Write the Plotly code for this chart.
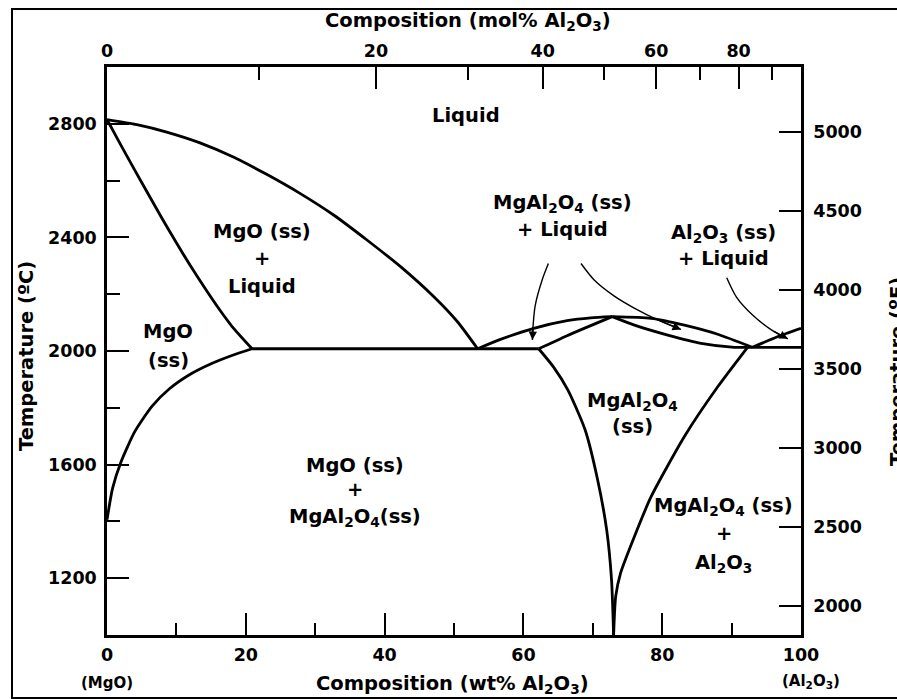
import plotly.graph_objects as go

# ---- phase boundaries: composition (wt% Al2O3) vs temperature (deg C) ----
mgo_liquidus_wt = [0, 4.3, 8.6, 13.4, 18.2, 23.0, 27.8, 32.7, 37.5, 42.3, 47.1, 50.5, 53.4]
mgo_liquidus_T = [2815, 2797, 2771, 2733, 2683, 2622, 2555, 2478, 2390, 2297, 2191, 2103, 2008]

mgo_solidus_wt = [0, 2, 4, 6, 8, 10, 12, 14, 16, 18, 20.9]
mgo_solidus_T = [2815, 2725, 2637, 2550, 2464, 2381, 2301, 2225, 2153, 2087, 2008]

mgo_solvus_wt = [20.9, 18.0, 15.0, 12.0, 9.0, 6.5, 4.0, 2.0, 0.8, 0]
mgo_solvus_T = [2008, 1984, 1955, 1918, 1867, 1806, 1716, 1608, 1516, 1406]

eutectic1_wt = [20.9, 62.2]
eutectic1_T = [2008, 2008]

spinel_liq_left_wt = [53.4, 56.7, 61.5, 66.3, 69.7, 72.8]
spinel_liq_left_T = [2008, 2041, 2080, 2107, 2117, 2121]

spinel_sol_left_wt = [62.2, 66.3, 72.8]
spinel_sol_left_T = [2008, 2054, 2121]

spinel_liq_right_wt = [72.8, 78.4, 83.2, 88.0, 93.0]
spinel_liq_right_T = [2121, 2115, 2091, 2059, 2013]

spinel_sol_right_wt = [72.8, 76.0, 80.8, 85.6, 90.4, 92.3]
spinel_sol_right_T = [2121, 2091, 2056, 2027, 2013, 2013]

eutectic2_wt = [92.3, 100]
eutectic2_T = [2013, 2013]

al2o3_liquidus_wt = [93.0, 96.6, 100]
al2o3_liquidus_T = [2013, 2050, 2080]

spinel_solvus_left_wt = [62.2, 64.3, 66.4, 68.9, 70.7, 72.0, 72.7, 73.0]
spinel_solvus_left_T = [2008, 1945, 1863, 1722, 1546, 1370, 1194, 1000]

spinel_solvus_right_wt = [92.3, 88.0, 83.2, 78.4, 76.0, 74.0, 73.3, 73.0]
spinel_solvus_right_T = [2013, 1874, 1699, 1487, 1347, 1218, 1136, 1000]

# leader arrows pointing into the narrow two-phase fields
arrow1_wt = [63.6, 62.7, 61.7, 61.4, 61.3]
arrow1_T = [2308, 2250, 2160, 2090, 2039]
arrow2_wt = [68.3, 70.2, 73.0, 75.9, 79.5, 82.7]
arrow2_T = [2308, 2250, 2195, 2152, 2108, 2076]
arrow3_wt = [89.3, 90.7, 93.1, 95.9, 98.1]
arrow3_T = [2258, 2190, 2125, 2072, 2043]

# ---- axes ----
wt_ticks = [0, 20, 40, 60, 80, 100]
wt_minor = [10, 30, 50, 70, 90]
mol_ticks = [0, 20, 40, 60, 80]
mol_minor = [10, 30, 50, 70, 90]
degC_ticks = [1200, 1600, 2000, 2400, 2800]
degC_minor = [1400, 1800, 2200, 2600]
degF_ticks = [2000, 2500, 3000, 3500, 4000, 4500, 5000]

M_MGO = 40.30
M_AL2O3 = 101.96


def mol_to_wt(m):
    a = m * M_AL2O3
    b = (100 - m) * M_MGO
    return 100 * a / (a + b)


FONT = "DejaVu Sans, Verdana, sans-serif"
LW = 2.8

fig = go.Figure()

boundaries = [
    (mgo_liquidus_wt, mgo_liquidus_T, "spline"),
    (mgo_solidus_wt, mgo_solidus_T, "spline"),
    (mgo_solvus_wt, mgo_solvus_T, "spline"),
    (eutectic1_wt, eutectic1_T, "linear"),
    (spinel_liq_left_wt, spinel_liq_left_T, "spline"),
    (spinel_sol_left_wt, spinel_sol_left_T, "spline"),
    (spinel_liq_right_wt, spinel_liq_right_T, "spline"),
    (spinel_sol_right_wt, spinel_sol_right_T, "spline"),
    (eutectic2_wt, eutectic2_T, "linear"),
    (al2o3_liquidus_wt, al2o3_liquidus_T, "spline"),
    (spinel_solvus_left_wt, spinel_solvus_left_T, "spline"),
    (spinel_solvus_right_wt, spinel_solvus_right_T, "spline"),
]
for xs, ys, shape in boundaries:
    fig.add_trace(go.Scatter(
        x=xs, y=ys, mode="lines",
        line=dict(color="black", width=LW, shape=shape, smoothing=0.6),
        hoverinfo="skip", showlegend=False, cliponaxis=False,
    ))

arrows = [(arrow1_wt, arrow1_T), (arrow2_wt, arrow2_T), (arrow3_wt, arrow3_T)]
for xs, ys in arrows:
    fig.add_trace(go.Scatter(
        x=xs, y=ys, mode="lines",
        line=dict(color="black", width=1.4, shape="spline", smoothing=0.8),
        hoverinfo="skip", showlegend=False,
    ))

# invisible trace so the secondary axes are attached
fig.add_trace(go.Scatter(x=[0, 100], y=[degF_ticks[0], degF_ticks[-1]], xaxis="x2", yaxis="y2",
                         mode="lines", line=dict(width=0), hoverinfo="skip", showlegend=False))

L, R, T, B = 107, 801, 67, 635


def pxx(p):
    return (p - L) / (R - L)


def pxy(p):
    return (B - p) / (B - T)


annotations = []
for xs, ys in arrows:
    annotations.append(dict(
        x=xs[-1], y=ys[-1], ax=xs[-2], ay=ys[-2], xref="x", yref="y", axref="x", ayref="y",
        showarrow=True, arrowhead=2, arrowsize=1.2, arrowwidth=1.4, arrowcolor="black", text="",
    ))

region_labels = [
    (51.8, 2830, "Liquid"),
    (22.3, 2420, "MgO (ss)"),
    (22.3, 2326, "+"),
    (22.3, 2226, "Liquid"),
    (8.8, 2068, "MgO"),
    (8.8, 1968, "(ss)"),
    (35.8, 1596, "MgO (ss)"),
    (35.8, 1511, "+"),
    (35.8, 1413, "MgAl<sub>2</sub>O<sub>4</sub>(ss)"),
    (75.7, 1822, "MgAl<sub>2</sub>O<sub>4</sub>"),
    (75.7, 1734, "(ss)"),
    (88.9, 1452, "MgAl<sub>2</sub>O<sub>4</sub> (ss)"),
    (88.9, 1359, "+"),
    (88.9, 1253, "Al<sub>2</sub>O<sub>3</sub>"),
    (65.6, 2520, "MgAl<sub>2</sub>O<sub>4</sub> (ss)"),
    (65.6, 2428, "+ Liquid"),
    (88.9, 2414, "Al<sub>2</sub>O<sub>3</sub> (ss)"),
    (88.9, 2326, "+ Liquid"),
]
for x, y, t in region_labels:
    annotations.append(dict(x=x, y=y, xref="x", yref="y", text=t, showarrow=False,
                            font=dict(family=FONT, size=19.5, color="black", weight="bold"),
                            xanchor="center", yanchor="middle"))

page_labels = [
    (468, 21, "Composition (mol% Al<sub>2</sub>O<sub>3</sub>)", 19.5, 0),
    (452, 684, "Composition (wt% Al<sub>2</sub>O<sub>3</sub>)", 19.5, 0),
    (107, 683, "(MgO)", 15, 0),
    (811, 681, "(Al<sub>2</sub>O<sub>3</sub>)", 15, 0),
    (26, 356, "Temperature (ºC)", 19.5, -90),
    (897, 372, "Temperature (ºF)", 19.5, -90),
]
for x, y, t, s, ang in page_labels:
    annotations.append(dict(x=pxx(x), y=pxy(y), xref="paper", yref="paper", text=t, showarrow=False,
                            textangle=ang, font=dict(family=FONT, size=s, color="black", weight="bold"),
                            xanchor="center", yanchor="middle"))

tickfont = dict(family=FONT, size=17.5, color="black", weight="bold")
axis_common = dict(showline=True, linecolor="black", linewidth=2.5, ticks="inside",
                   tickcolor="black", tickwidth=2, ticklen=22, showgrid=False, zeroline=False,
                   tickfont=tickfont, fixedrange=True)

fig.update_layout(
    width=897, height=699,
    margin=dict(l=L, r=897 - R, t=T, b=699 - B),
    paper_bgcolor="white", plot_bgcolor="white",
    showlegend=False,
    xaxis=dict(range=[0, 100], tickmode="array", tickvals=wt_ticks,
               ticktext=[str(v) for v in wt_ticks], ticklabelstandoff=2,
               minor=dict(tickmode="array", tickvals=wt_minor, ticks="inside", ticklen=12,
                          tickwidth=2, tickcolor="black"),
               **axis_common),
    yaxis=dict(range=[1000, 3000], tickmode="array", tickvals=degC_ticks,
               ticktext=[str(v) for v in degC_ticks], ticklabelstandoff=4,
               minor=dict(tickmode="array", tickvals=degC_minor, ticks="inside", ticklen=13,
                          tickwidth=2, tickcolor="black"),
               **axis_common),
    xaxis2=dict(range=[0, 100], overlaying="x", side="top", anchor="y", tickmode="array",
                tickvals=[mol_to_wt(m) for m in mol_ticks], ticktext=[str(m) for m in mol_ticks],
                ticklabelstandoff=0,
                minor=dict(tickmode="array", tickvals=[mol_to_wt(m) for m in mol_minor],
                           ticks="inside", ticklen=13, tickwidth=2, tickcolor="black"),
                **axis_common),
    yaxis2=dict(range=[1815, 5410], overlaying="y", side="right", anchor="x", tickmode="array",
                tickvals=degF_ticks, ticktext=[str(v) for v in degF_ticks], ticklabelstandoff=6,
                **axis_common),
    annotations=annotations,
    shapes=[dict(type="rect", xref="paper", yref="paper",
                 x0=pxx(12), x1=pxx(930), y0=pxy(698), y1=pxy(9),
                 line=dict(color="black", width=2), layer="below")],
)

fig.write_html("out.html")
